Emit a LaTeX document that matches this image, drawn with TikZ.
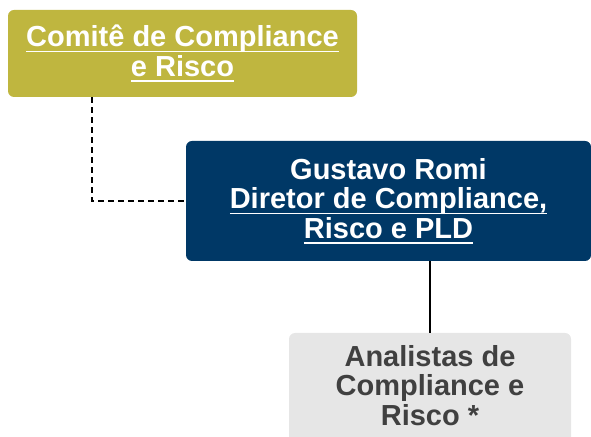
\documentclass[tikz,border=0pt]{standalone}
\usepackage{fontspec}
\setmainfont{Liberation Sans}
\newsavebox{\ullinebox}
\newcommand{\ulline}[1]{\sbox{\ullinebox}{#1}\rlap{\rule[-5.6pt]{\wd\ullinebox}{1.8pt}}\usebox{\ullinebox}}
\definecolor{comiteolive}{RGB}{191,182,63}
\definecolor{diretorblue}{RGB}{0,56,102}
\definecolor{analistagray}{RGB}{230,230,230}
\definecolor{analistatext}{RGB}{64,64,64}
\tikzset{
	orgbox/.style={rectangle, rounded corners=6pt, align=center, inner sep=0pt,
		font=\bfseries\fontsize{29}{29.5}\selectfont},
	linkline/.style={line width=1.6pt}
}
\begin{document}
\begin{tikzpicture}[x=1pt, y=1pt]
		\clip (0,0) rectangle (591,436);

		\node[orgbox, fill=comiteolive, text=white, minimum width=349pt, minimum height=87pt]
			(comite) at (182.5,382.5) {\ulline{Comitê de Compliance}\\\ulline{e Risco}};
		\node[orgbox, fill=diretorblue, text=white, minimum width=405pt, minimum height=120pt]
			(diretor) at (388.5,235) {Gustavo Romi\\\ulline{Diretor de Compliance,}\\\ulline{Risco e PLD}};
		\node[orgbox, fill=analistagray, text=analistatext, minimum width=282pt, minimum height=116pt, text depth=12pt]
			(analistas) at (430,45) {Analistas de\\Compliance e\\Risco *};

		\draw[linkline, dash pattern=on 6pt off 4pt]
			([xshift=84pt]comite.south west) |- (diretor.west);
		\draw[linkline, line width=2pt]
			(analistas.north) -- (analistas.north |- diretor.south);
	\end{tikzpicture}
\end{document}
